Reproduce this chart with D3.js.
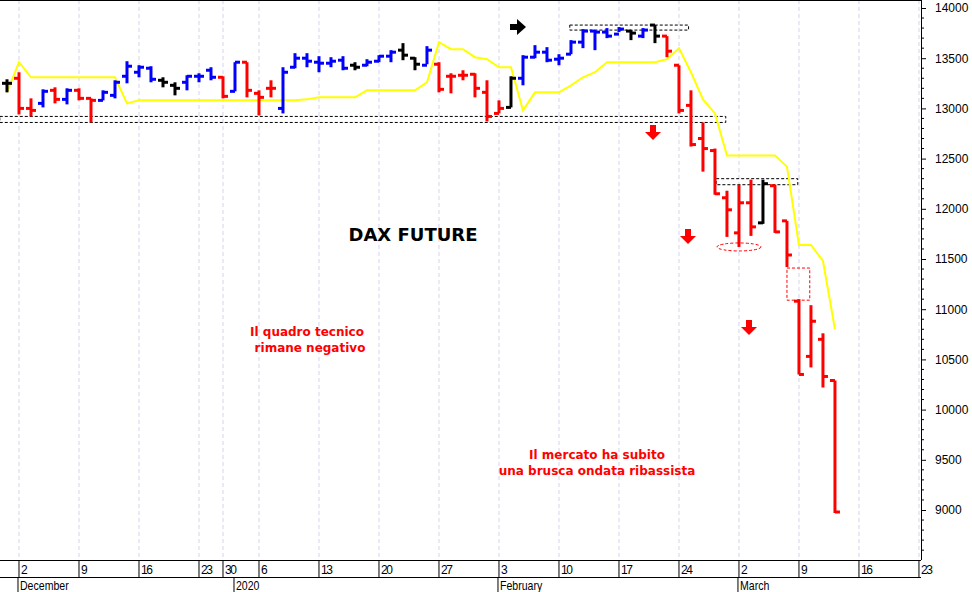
<!DOCTYPE html>
<html><head><meta charset="utf-8">
<script src="https://cdn.jsdelivr.net/npm/d3@7"></script>
<style>body{margin:0;background:#fff}svg{display:block;font-family:"Liberation Sans",Arial,sans-serif}</style>
</head><body><svg id="c" width="972" height="592"></svg>
<script>
// daily bars, index 0 = 29 Nov 2019
var opens  = [13250,13300,13000,13050,13180,13090,13180,13100,13080,13130,13320,13360,13400,13280,13230,13260,13320,13380,13310,13170,13460,13150,13200,13000,13410,13500,13460,13450,13480,13430,13430,13470,13520,13580,13500,13430,13440,13320,13330,13340,13160,12950,13010,13300,13510,13560,13490,13540,13660,13770,13760,13740,13770,13720,13830,13720,13430,13030,12700,12580,12110,11760,12060,11860,12230,11880,11080,10530,10700,10290]
var highs  = [13290,13360,13100,13190,13210,13200,13200,13100,13180,13280,13470,13430,13420,13310,13260,13330,13350,13410,13320,13460,13460,13180,13280,13410,13550,13550,13520,13510,13520,13460,13490,13530,13580,13650,13510,13620,13460,13350,13380,13350,13280,13080,13320,13530,13630,13610,13540,13680,13790,13780,13800,13810,13780,13800,13830,13720,13430,13180,12860,12600,12180,12240,12290,12290,12240,11880,11100,11040,10760,10290]
var lows   = [13160,12940,12920,13010,13050,13040,13080,12860,13080,13100,13250,13310,13260,13210,13130,13180,13260,13280,13100,13170,13110,12930,13110,12950,13400,13410,13360,13410,13380,13380,13420,13460,13460,13480,13380,13440,13160,13150,13280,13110,12870,12950,13010,13230,13500,13460,13430,13540,13600,13580,13700,13760,13680,13700,13650,13510,12950,12620,12370,12140,11720,11620,11730,11850,11760,11420,10350,10420,10220,8970]
var closes = [13250,13000,12980,13170,13090,13180,13100,13080,13160,13260,13420,13410,13290,13260,13200,13320,13320,13310,13120,13460,13180,13110,13200,13360,13500,13470,13450,13470,13400,13410,13460,13520,13560,13530,13440,13580,13190,13320,13330,13200,12920,13000,13300,13510,13560,13480,13500,13660,13770,13760,13720,13790,13750,13780,13720,13570,12980,12640,12600,12150,11990,12060,11820,12250,11770,11540,10350,10880,10330,8980]
var colors = "krrbrbrrbbbbbkkbbbrbrrrbbbbbbkbbbkkbrrrrrrkbbbbbbbbbkbkrrrrrrrrkrrrrrr"
var stopLine = [13160,13460,13310,13310,13310,13310,13310,13310,13310,13310,13050,13080,13080,13080,13080,13080,13080,13080,13080,13080,13080,13080,13080,13080,13080,13090,13110,13110,13110,13110,13180,13180,13180,13180,13180,13260,13660,13590,13590,13510,13490,13410,13410,12980,13160,13160,13160,13230,13310,13360,13460,13460,13460,13460,13460,13490,13600,13360,13090,12950,12530,12530,12530,12530,12530,12420,11640,11640,11480,10800]
var weekIdx = [1,6,11,16,18,21,26,31,36,41,46,51,56,61,66,71,76]
var weekLabels = ["2","9","16","23","30","6","13","20","27","3","10","17","24","2","9","16","23"]
var monthIdx = [1,19,41,61]
var monthLabels = ["December","2020","February","March"]

var svg = d3.select('#c')
var W = 921, H = 560
var x = d3.scaleLinear().domain([-0.583, 76.17]).range([0, W])
var y = d3.scaleLinear().domain([9000, 14000]).range([510, 8])
var col = {r:'#ff0000', b:'#0000ff', k:'#000000'}

// grid
svg.append('g').selectAll('line').data(weekIdx).enter().append('line')
  .attr('x1', d => x(d)).attr('x2', d => x(d)).attr('y1', 0).attr('y2', H)
  .attr('stroke', '#d4d4ee').attr('stroke-dasharray', '4,3')

// frame
svg.append('line').attr('x1',0).attr('x2',W).attr('y1',0.5).attr('y2',0.5).attr('stroke','#000')
svg.append('line').attr('x1',0).attr('x2',W).attr('y1',560.5).attr('y2',560.5).attr('stroke','#000')
svg.append('line').attr('x1',0).attr('x2',W).attr('y1',577.5).attr('y2',577.5).attr('stroke','#000')

// right axis
var yAxis = d3.axisRight(y).tickValues(d3.range(9000, 14001, 500)).tickSize(5).tickFormat(d3.format('d'))
var gy = svg.append('g').attr('transform', 'translate(' + W + ',0)').call(yAxis)
gy.select('path.domain').attr('d', 'M0.5,0V' + H)
gy.selectAll('text').attr('x', 14).style('font-size', '12px')
svg.append('g').attr('transform', 'translate(' + W + ',0)').selectAll('line')
  .data(d3.range(8600, 14100, 100).filter(v => v % 500)).enter().append('line')
  .attr('x1', 0).attr('x2', 3).attr('y1', d => y(d)).attr('y2', d => y(d)).attr('stroke', '#000')

// x axis rows
var gx = svg.append('g')
gx.selectAll('line').data(weekIdx).enter().append('line')
  .attr('x1', d => x(d)).attr('x2', d => x(d)).attr('y1', 560).attr('y2', 577).attr('stroke', '#000')
gx.selectAll('text').data(weekIdx).enter().append('text')
  .attr('x', d => x(d) + 2).attr('y', 574).text((d, i) => weekLabels[i])
  .style('font-size', '12px').attr('textLength', (d, i) => weekLabels[i].length * 6)
var gm = svg.append('g')
gm.selectAll('line').data(monthIdx).enter().append('line')
  .attr('x1', d => x(d) - 1).attr('x2', d => x(d) - 1).attr('y1', 577).attr('y2', 592).attr('stroke', '#000')
gm.selectAll('text').data(monthIdx).enter().append('text')
  .attr('x', d => x(d) + 1).attr('y', 590).text((d, i) => monthLabels[i]).style('font-size', '12px')
  .attr('transform', d => 'translate(' + (x(d) + 1) + ',0) scale(0.88,1) translate(' + -(x(d) + 1) + ',0)')

// dashed zones
function zone(i0, i1, v0, v1, c) {
  svg.append('rect').attr('x', x(i0)).attr('width', x(i1) - x(i0)).attr('y', y(v0)).attr('height', y(v1) - y(v0))
    .attr('fill', 'none').attr('stroke', c).attr('stroke-dasharray', '3,2')
}
zone(-0.6, 59.9, 12920, 12860, '#000')
zone(46.9, 56.8, 13830, 13780, '#000')
zone(59.1, 65.9, 12300, 12240, '#000')
zone(65, 66.9, 11410, 11090, '#f00')
svg.append('ellipse').attr('cx', x(61)).attr('cy', y(11620)).attr('rx', 22).attr('ry', 4)
  .attr('fill', 'none').attr('stroke', '#f00').attr('stroke-dasharray', '3,2')

// yellow stop line
svg.append('path').datum(stopLine)
  .attr('d', d3.line().x((d, i) => x(i)).y(d => y(d)))
  .attr('fill', 'none').attr('stroke', '#ffff00').attr('stroke-width', 2)

// OHLC bars
var bars = svg.append('g').selectAll('g').data(opens).enter().append('g')
  .attr('stroke', (d, i) => col[colors[i]] || '#ff0000').attr('stroke-width', 3)
bars.append('line').attr('x1', (d, i) => x(i)).attr('x2', (d, i) => x(i))
  .attr('y1', (d, i) => y(highs[i])).attr('y2', (d, i) => y(lows[i]))
bars.append('line').attr('x1', (d, i) => x(i) - 5).attr('x2', (d, i) => x(i))
  .attr('y1', (d, i) => y(opens[i])).attr('y2', (d, i) => y(opens[i]))
bars.append('line').attr('x1', (d, i) => x(i)).attr('x2', (d, i) => x(i) + 5)
  .attr('y1', (d, i) => y(closes[i])).attr('y2', (d, i) => y(closes[i]))

// arrows
function arrow(cx, cy, c, dir) {
  var p = dir === 'down'
    ? [[-3,-9],[3,-9],[3,-2],[8,-2],[0,6],[-8,-2],[-3,-2]]
    : [[-9,-3],[-2,-3],[-2,-8],[7,0],[-2,8],[-2,3],[-9,3]]
  svg.append('path').attr('d', 'M' + p.map(q => (cx + q[0]) + ',' + (cy + q[1])).join('L') + 'Z').attr('fill', c)
}
arrow(519, 27, '#000', 'right')
arrow(653, 134, '#f00', 'down')
arrow(688, 238, '#f00', 'down')
arrow(749, 329, '#f00', 'down')

// texts
svg.append('text').attr('x', 413).attr('y', 241).attr('text-anchor', 'middle')
  .style('font-family', 'DejaVu Sans').style('font-weight', 'bold').style('font-size', '18px').text('DAX FUTURE')
var notes = [[307, 336, 'Il quadro tecnico'], [310, 352, 'rimane negativo'],
  [597, 459, 'Il mercato ha subito'], [597, 475, 'una brusca ondata ribassista']]
svg.selectAll('text.note').data(notes).enter().append('text').attr('class', 'note')
  .attr('x', d => d[0]).attr('y', d => d[1]).attr('text-anchor', 'middle').attr('fill', '#f00')
  .style('font-family', 'DejaVu Sans').style('font-weight', 'bold').style('font-size', '12px').text(d => d[2])
</script></body></html>
